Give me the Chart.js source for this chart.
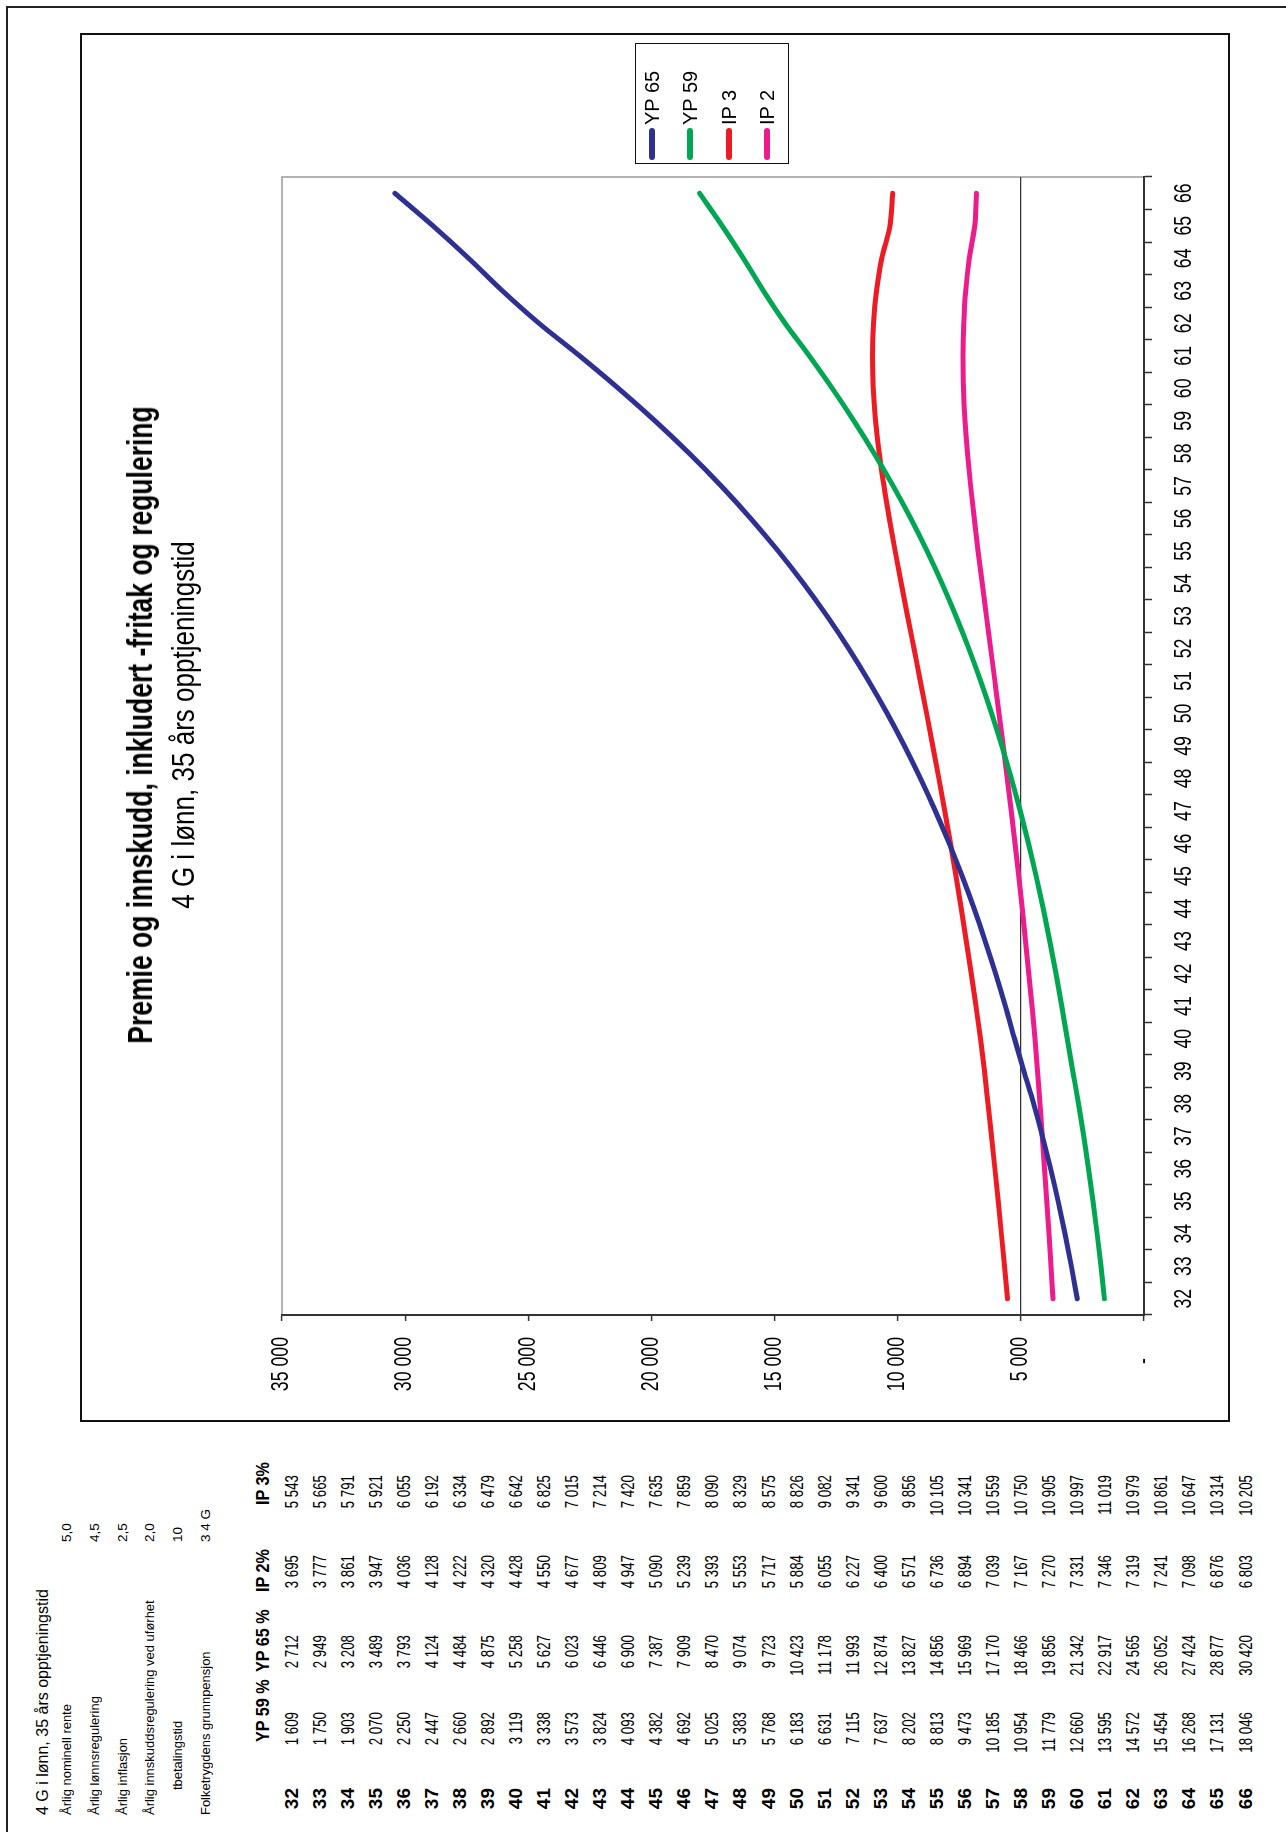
<!DOCTYPE html>
<html>
<head>
<meta charset="utf-8">
<script src="https://cdn.jsdelivr.net/npm/chart.js@4.4.1/dist/chart.umd.min.js"></script>
<style>
  html, body { margin: 0; padding: 0; background: #fff; }
  body { width: 1286px; height: 1832px; overflow: hidden; position: relative; }
  /* the sheet is laid out landscape and turned a quarter turn counter-clockwise */
  #sheet {
    position: absolute; left: 0; top: 0; width: 1832px; height: 1286px;
    transform-origin: 0 0; transform: translate(0, 1832px) rotate(-90deg);
    font-family: "Liberation Sans", Arial, sans-serif;
    color: #000;
  }
  .abs { position: absolute; white-space: nowrap; }
  #pageFrame { position: absolute; left: -20px; top: 6px; width: 1846px; height: 1300px;
    border-top: 2px solid #222; border-right: 2px solid #222; box-sizing: border-box; }
  #chartWrap { position: absolute; left: 410px; top: 80px; width: 1389px; height: 1150px; }
  #chartWrap canvas { position: absolute; left: 0; top: 0; }
  #chartBorder { position: absolute; left: 0; top: 0; width: 1389px; height: 1150px;
    border: 2px solid #111; box-sizing: border-box; pointer-events: none; }
  .heading { position: absolute; left: 697px; white-space: nowrap; line-height: 40px; }
  #chartTitle { top: 40px; font-size: 35px; font-weight: bold; transform: translateX(-50%) scaleX(0.757); }
  #chartSubtitle { top: 84px; font-size: 31px; transform: translateX(-50%) scaleX(0.84); }
  #legend { position: absolute; left: 1668px; top: 635px; width: 121px; height: 154px;
    border: 1.5px solid #111; box-sizing: border-box; background: #fff; font-size: 20px; }
  .legRow { position: absolute; left: 0; height: 24px; line-height: 24px; }
  .legSwatch { position: absolute; left: 3px; top: 9px; width: 32px; height: 6px; border-radius: 3px; }
  .legText { position: absolute; left: 38px; top: 0; white-space: nowrap; }
</style>
</head>
<body>
<div id="sheet">
  <div id="pageFrame"></div>
  <div id="notes"></div>
  <div id="table"></div>
  <div id="chartWrap">
    <canvas id="c" width="1389" height="1150"></canvas>
    <div id="chartTitle" class="heading"></div>
    <div id="chartSubtitle" class="heading"></div>
    <div id="chartBorder"></div>
  </div>
  <div id="legend"></div>
</div>
<script>
// ---- data ----
const ages = [32, 33, 34, 35, 36, 37, 38, 39, 40, 41, 42, 43, 44, 45, 46, 47, 48, 49, 50,
              51, 52, 53, 54, 55, 56, 57, 58, 59, 60, 61, 62, 63, 64, 65, 66];
const yp59 = [1609, 1750, 1903, 2070, 2250, 2447, 2660, 2892, 3119, 3338, 3573, 3824, 4093, 4382,
              4692, 5025, 5383, 5768, 6183, 6631, 7115, 7637, 8202, 8813, 9473, 10185, 10954,
              11779, 12660, 13595, 14572, 15454, 16268, 17131, 18046];
const yp65 = [2712, 2949, 3208, 3489, 3793, 4124, 4484, 4875, 5258, 5627, 6023, 6446, 6900, 7387,
              7909, 8470, 9074, 9723, 10423, 11178, 11993, 12874, 13827, 14856, 15969, 17170,
              18466, 19856, 21342, 22917, 24565, 26052, 27424, 28877, 30420];
const ip2  = [3695, 3777, 3861, 3947, 4036, 4128, 4222, 4320, 4428, 4550, 4677, 4809, 4947, 5090,
              5239, 5393, 5553, 5717, 5884, 6055, 6227, 6400, 6571, 6736, 6894, 7039, 7167, 7270,
              7331, 7346, 7319, 7241, 7098, 6876, 6803];
const ip3  = [5543, 5665, 5791, 5921, 6055, 6192, 6334, 6479, 6642, 6825, 7015, 7214, 7420, 7635,
              7859, 8090, 8329, 8575, 8826, 9082, 9341, 9600, 9856, 10105, 10341, 10559, 10750,
              10905, 10997, 11019, 10979, 10861, 10647, 10314, 10205];

const tableHeaders = ["YP 59 %", "YP 65 %", "IP 2%", "IP 3%"];
const notesTitle = "4 G  i lønn, 35 års opptjeningstid";
const paramLabels = ["Årlig nominell rente", "Årlig lønnsregulering", "Årlig inflasjon",
                     "Årlig innskuddsregulering ved uførhet", "tbetalingstid",
                     "Folketrygdens grunnpensjon"];
const paramValues = ["5,0", "4,5", "2,5", "2,0", "10", "3 4 G"];

const chartTitle = "Premie og innskudd, inkludert -fritak og regulering";
const chartSubtitle = "4 G i lønn, 35 års opptjeningstid";
const seriesNames = ["YP 65", "YP 59", "IP 3", "IP 2"];
const yTicks = [0, 5000, 10000, 15000, 20000, 25000, 30000, 35000];

// ---- helpers ----
const fmt = n => String(n).replace(/\B(?=(\d{3})+(?!\d))/g, ' ');
const yLabel = v => v === 0 ? '-' : fmt(v);

function put(parent, text, u, v, size, opts = {}) {
  const d = document.createElement('div');
  d.className = 'abs';
  d.textContent = text;
  const lh = Math.round(size * 1.3);
  d.style.fontSize = size + 'px';
  d.style.lineHeight = lh + 'px';
  d.style.fontWeight = opts.bold ? 'bold' : 'normal';
  d.style.top = (v - lh / 2) + 'px';
  const sx = opts.squeeze || 1;
  if (opts.right) {
    d.style.left = (u - 300) + 'px';
    d.style.width = '300px';
    d.style.textAlign = 'right';
    d.style.transformOrigin = '100% 50%';
  } else {
    d.style.left = u + 'px';
    d.style.transformOrigin = '0 50%';
  }
  if (sx !== 1) d.style.transform = 'scaleX(' + sx + ')';
  parent.appendChild(d);
}

document.getElementById('chartTitle').textContent = chartTitle;
document.getElementById('chartSubtitle').textContent = chartSubtitle;

// ---- assumptions block ----
const notes = document.getElementById('notes');
put(notes, notesTitle, 17, 42, 16);
const indentedRow = 4;
paramLabels.forEach((t, i) => {
  const v = 67 + i * 27.8;
  put(notes, t, i === indentedRow ? 42 : 17, v, 13.5, { squeeze: 0.96 });
  put(notes, paramValues[i], 290, v, 13.5);
});

// ---- value table ----
const table = document.getElementById('table');
const headLeft = [90, 160, 240, 327];
const colRight = [44, 120, 197, 277, 357];
tableHeaders.forEach((h, i) => put(table, h, headLeft[i], 263, 18, { bold: true, squeeze: 0.9 }));
const cols = [yp59, yp65, ip2, ip3];
ages.forEach((a, r) => {
  const v = 291 + r * 28.06;
  put(table, String(a), colRight[0], v, 19, { bold: true, right: true });
  cols.forEach((col, ci) => put(table, fmt(col[r]), colRight[ci + 1], v, 19, { right: true, squeeze: 0.7 }));
});

// ---- chart ----
// light frame around the plot area, drawn before the axes so they sit on top
const plotFrame = {
  id: 'plotFrame',
  beforeDraw(chart) {
    const { ctx, chartArea: a } = chart;
    ctx.save();
    ctx.strokeStyle = '#9a9a9a';
    ctx.lineWidth = 1.5;
    ctx.strokeRect(a.left, a.top, a.width, a.height);
    ctx.restore();
  }
};

// tick labels in a narrow face: placed from the scales' own tick pixels
const SQUEEZE = 0.77;
const narrowTicks = {
  id: 'narrowTicks',
  afterDraw(chart) {
    const { ctx, scales: { x, y } } = chart;
    const draw = (s, px, py, align) => {
      ctx.save();
      ctx.translate(px, py);
      ctx.scale(SQUEEZE, 1);
      ctx.textAlign = align;
      ctx.fillText(s, 0, 0);
      ctx.restore();
    };
    ctx.save();
    ctx.font = '23px "Liberation Sans", Arial, sans-serif';
    ctx.fillStyle = '#000';
    ctx.textBaseline = 'middle';
    x.ticks.forEach((t, i) => draw(String(x.getLabelForValue(t.value)), x.getPixelForTick(i), x.top + 41, 'center'));
    y.ticks.forEach(t => {
      const right = t.value === 0 ? y.right - 43 : y.right - 22;
      draw(yLabel(t.value), right, y.getPixelForValue(t.value), 'right');
    });
    ctx.restore();
  }
};

const colors = ['#2E3192', '#00A651', '#ED1C24', '#EC1C8C'];
const seriesData = [yp65, yp59, ip3, ip2];

const chart = new Chart(document.getElementById('c'), {
  type: 'line',
  data: {
    labels: ages,
    datasets: seriesNames.map((name, i) => ({
      label: name,
      data: seriesData[i],
      borderColor: colors[i],
      backgroundColor: colors[i],
    }))
  },
  options: {
    responsive: false,
    animation: false,
    layout: { padding: { left: 0, right: 144, top: 202, bottom: 0 } },
    elements: {
      point: { radius: 0, hoverRadius: 0 },
      line: { borderWidth: 5, cubicInterpolationMode: 'monotone', borderCapStyle: 'round', borderJoinStyle: 'round' }
    },
    plugins: {
      legend: { display: false },
      tooltip: { enabled: false },
      title: { display: false },
      subtitle: { display: false }
    },
    scales: {
      x: {
        offset: true,
        grid: { offset: true, drawOnChartArea: false, tickLength: 8, tickColor: '#333', tickWidth: 1.5 },
        border: { color: '#333', width: 2 },
        ticks: { display: false, autoSkip: false },
        afterFit(s) { s.height = 86; }
      },
      y: {
        min: yTicks[0], max: yTicks[yTicks.length - 1],
        afterBuildTicks(s) { s.ticks = yTicks.map(v => ({ value: v })); },
        grid: {
          color: c => (c.tick && c.tick.value === 5000) ? '#333' : 'rgba(0,0,0,0)',
          lineWidth: 1.2, tickLength: 6, tickColor: '#333', tickWidth: 1.5
        },
        border: { color: '#333', width: 2 },
        ticks: { display: false },
        afterFit(s) { s.width = 107; }
      }
    }
  },
  plugins: [plotFrame, narrowTicks]
});

// ---- legend built from the chart's datasets ----
const legend = document.getElementById('legend');
chart.data.datasets.forEach((ds, i) => {
  const row = document.createElement('div');
  row.className = 'legRow';
  row.style.top = (17 + i * 38.6 - 12 - 1.5) + 'px';
  row.style.width = '118px';
  const sw = document.createElement('div');
  sw.className = 'legSwatch';
  sw.style.background = ds.borderColor;
  const tx = document.createElement('div');
  tx.className = 'legText';
  tx.textContent = ds.label;
  row.appendChild(sw);
  row.appendChild(tx);
  legend.appendChild(row);
});
</script>
</body>
</html>
